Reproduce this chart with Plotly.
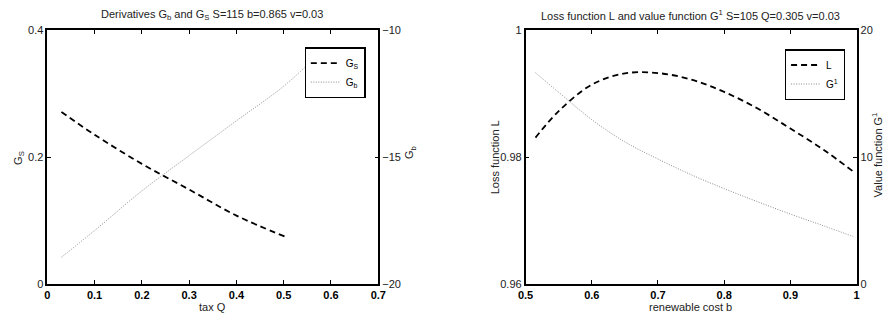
import plotly.graph_objects as go

# ---- Left panel data ----
Q_S = [0.03, 0.1, 0.2, 0.3, 0.4, 0.505]
G_S = [0.271, 0.2353, 0.1894, 0.1490, 0.1080, 0.0742]
Q_b = [0.03, 0.1, 0.2, 0.3, 0.4, 0.5, 0.563]
G_b = [-18.94, -17.89, -16.33, -14.94, -13.57, -12.21, -11.14]

# ---- Right panel data ----
b_vals = [0.515, 0.55, 0.6, 0.65, 0.7, 0.75, 0.8, 0.85, 0.9, 0.95, 0.995]
L_vals = [0.98308, 0.98723, 0.99141, 0.99318, 0.99323, 0.99222, 0.99026, 0.98768, 0.98450, 0.98117, 0.97773]
G1_vals = [16.64, 15.10, 12.95, 11.20, 9.85, 8.62, 7.52, 6.50, 5.52, 4.60, 3.75]

x1_ticks = [0, 0.1, 0.2, 0.3, 0.4, 0.5, 0.6, 0.7]
y1_ticks = [0, 0.2, 0.4]
y2_ticks = [-20, -15, -10]
y2_text = ["\u221220", "\u221215", "\u221210"]
x2_ticks = [0.5, 0.6, 0.7, 0.8, 0.9, 1]
y3_ticks = [0.96, 0.98, 1]
y4_ticks = [0, 10, 20]

W, H = 896, 321
FONT = "Liberation Sans, Arial, sans-serif"
TXT = "#222"

def px(x):
    return x / W

def py(y):
    return 1 - y / H

dom_x1 = [px(40), px(377)]
dom_x2 = [px(527), px(864)]
dom_y = [py(289), py(25)]

fig = go.Figure()
dash_style = dict(color="black", width=1.8, dash="6px,4px")
dot_style = dict(color="#8a8a8a", width=1, dash="1px,1.5px")

fig.add_trace(go.Scatter(x=Q_S, y=G_S, mode="lines", line=dash_style, name="G<sub>S</sub>",
                         xaxis="x", yaxis="y", legend="legend", line_shape="spline"))
fig.add_trace(go.Scatter(x=Q_b, y=G_b, mode="lines", line=dot_style, name="G<sub>b</sub>",
                         xaxis="x", yaxis="y2", legend="legend", line_shape="spline"))
fig.add_trace(go.Scatter(x=b_vals, y=L_vals, mode="lines", line=dash_style, name="L",
                         xaxis="x2", yaxis="y3", legend="legend2", line_shape="spline"))
fig.add_trace(go.Scatter(x=b_vals, y=G1_vals, mode="lines", line=dot_style, name="G<sup>1</sup>",
                         xaxis="x2", yaxis="y4", legend="legend2", line_shape="spline"))

tickfont = dict(family=FONT, size=11, color=TXT)
boldtick = dict(family=FONT, size=11, color="black", weight="bold")
common_x = dict(showline=True, linecolor="black", linewidth=1.5, mirror="ticks", ticks="inside",
                ticklen=4, tickcolor="black", showgrid=False, zeroline=False, tickfont=boldtick,
                ticklabelstandoff=0)
common_y = dict(showline=True, linecolor="black", linewidth=1.5, ticks="inside", ticklen=4,
                tickcolor="black", showgrid=False, zeroline=False, tickfont=tickfont)

legend_common = dict(xanchor="left", yanchor="top", bordercolor="black", borderwidth=1.2,
                     bgcolor="white", font=dict(family=FONT, size=10, color="black"),
                     itemwidth=30, tracegroupgap=0)

fig.update_layout(
    width=W, height=H,
    margin=dict(l=0, r=0, t=0, b=0),
    paper_bgcolor="white", plot_bgcolor="white",
    font=dict(family=FONT, size=11, color=TXT),
    xaxis=dict(domain=dom_x1, range=[0, 0.7], tickvals=x1_ticks,
               ticktext=[str(v) for v in x1_ticks], anchor="y", **common_x),
    yaxis=dict(domain=dom_y, range=[0, 0.4], tickvals=y1_ticks,
               ticktext=["0", "0.2", "0.4"], anchor="x", side="left", **common_y),
    yaxis2=dict(range=[-20, -10], tickvals=y2_ticks, ticktext=y2_text, overlaying="y",
                anchor="x", side="right", **common_y),
    xaxis2=dict(domain=dom_x2, range=[0.5, 1], tickvals=x2_ticks,
                ticktext=["0.5", "0.6", "0.7", "0.8", "0.9", "1"], anchor="y3", **common_x),
    yaxis3=dict(domain=dom_y, range=[0.96, 1], tickvals=y3_ticks,
                ticktext=["0.96", "0.98", "1"], anchor="x2", side="left", **common_y),
    yaxis4=dict(range=[0, 20], tickvals=y4_ticks, ticktext=["0", "10", "20"], overlaying="y3",
                anchor="x2", side="right", **common_y),
    legend=dict(x=px(302), y=py(43), **legend_common),
    legend2=dict(x=px(791), y=py(45), **legend_common),
    showlegend=True,
)

ann = [
    dict(text="Derivatives G<sub>b</sub> and G<sub>S</sub> S=115 b=0.865 v=0.03", x=px(208), y=py(9)),
    dict(text="Loss function L and value function G<sup>1</sup> S=105 Q=0.305 v=0.03", x=px(695), y=py(9)),
    dict(text="tax Q", x=px(208), y=py(313)),
    dict(text="renewable cost b", x=px(695), y=py(313)),
    dict(text="G<sub>S</sub>", x=px(11), y=py(158), textangle=-90),
    dict(text="G<sub>b</sub>", x=px(410), y=py(152), textangle=-90),
    dict(text="Loss function L", x=px(496), y=py(157), textangle=-90),
    dict(text="Value function G<sup>1</sup>", x=px(885), y=py(155), textangle=-90),
]
for a in ann:
    fig.add_annotation(xref="paper", yref="paper", showarrow=False, xanchor="center", yanchor="middle",
                       font=dict(family=FONT, size=11, color=TXT), **a)

fig.write_html("out.html")
